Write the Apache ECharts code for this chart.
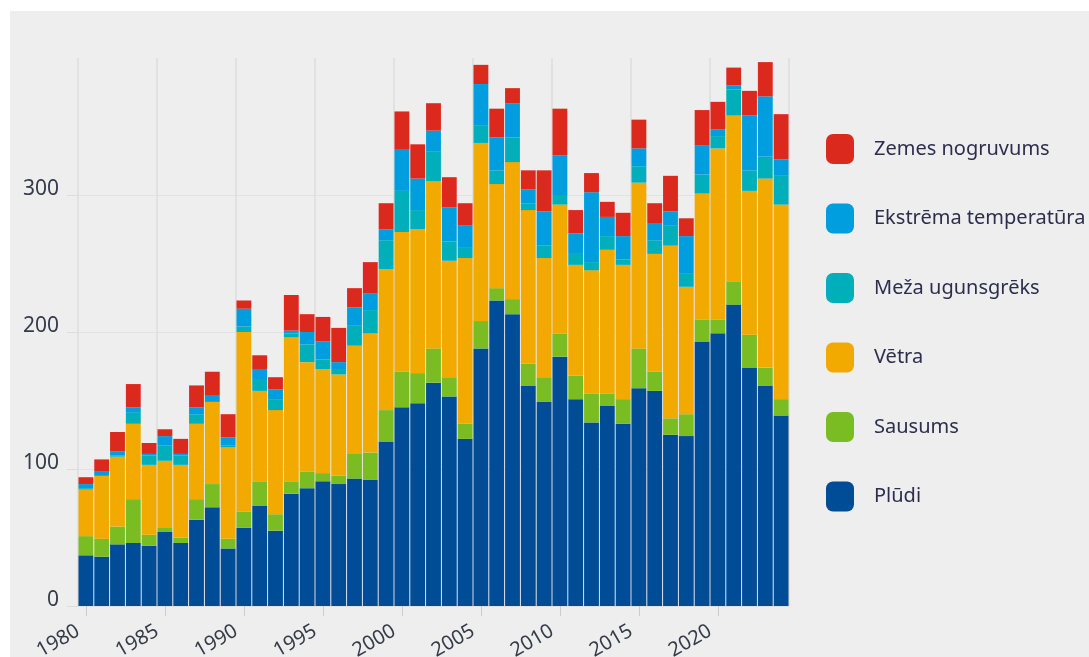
<!DOCTYPE html>
<html>
<head>
<meta charset="utf-8">
<script src="https://cdn.jsdelivr.net/npm/echarts@6/dist/echarts.min.js"></script>
<style>
  html, body { margin: 0; padding: 0; background: #ffffff; width: 1089px; height: 657px; overflow: hidden; }
  #chart { position: absolute; left: 10px; top: 11px; width: 1079px; height: 646px; background: #eeeeee; }
</style>
</head>
<body>
<div id="chart"></div>
<script>
const years = [];
for (let y = 1980; y <= 2024; y++) years.push(String(y));
const yTicks = [0, 100, 200, 300];
const pludi = [37,36,45,46,44,54,46,63,72,42,57,73,55,82,86,91,89,93,92,120,145,148,163,153,122,188,223,213,161,149,182,151,134,146,133,159,157,125,124,193,199,220,174,161,139];
const sausums = [14,13,13,32,8,3,4,15,17,7,12,18,12,9,12,6,6,18,20,23,26,22,25,14,11,20,9,11,16,18,17,17,21,9,18,29,14,12,16,16,10,17,24,13,12];
const vetra = [34,46,51,55,51,49,53,55,60,67,131,66,76,105,80,76,74,79,87,103,102,105,122,85,121,130,76,100,112,87,94,81,90,105,98,121,86,126,93,92,125,121,105,138,142];
const meza = [1,0,1,8,7,11,7,7,0,1,4,8,8,3,13,7,4,15,17,21,30,14,22,14,8,13,10,18,5,9,7,8,6,10,4,12,10,15,10,14,9,19,15,16,21];
const ekstrema = [3,3,3,4,1,7,1,5,5,6,13,8,7,2,9,13,5,13,12,8,30,23,15,25,16,30,24,25,10,25,29,15,51,14,17,13,12,10,27,21,5,3,40,44,12];
const zemes = [5,9,14,17,8,5,11,16,17,17,6,10,9,26,13,18,25,14,23,19,28,25,20,22,16,14,21,11,14,30,34,17,14,11,17,21,15,26,13,26,20,13,18,25,33];
const seriesNames = ['Plūdi', 'Sausums', 'Vētra', 'Meža ugunsgrēks', 'Ekstrēma temperatūra', 'Zemes nogruvums'];
const seriesData = [pludi, sausums, vetra, meza, ekstrema, zemes];
const seriesColors = ['#004c97', '#7abd23', '#f2a900', '#00afb9', '#009ddf', '#dc291e'];
const chart = echarts.init(document.getElementById('chart'), null, { renderer: 'canvas' });
const option = {
  backgroundColor: '#eeeeee',
  animation: false,
  textStyle: { fontFamily: 'Noto Sans' },
  legend: {
    orient: 'vertical', left: 816, top: 123, padding: 0, itemWidth: 28, itemHeight: 30, itemGap: 39.5,
    icon: 'roundRect', data: seriesNames.slice().reverse(),
    textStyle: { fontSize: 20, color: '#2e2d4d', fontFamily: 'Noto Sans', padding: [0, 0, 0, 15] },
    selectedMode: false
  },
  grid: { left: 68, top: 47, right: 300, bottom: 51, containLabel: false, outerBoundsMode: 'none' },
  xAxis: {
    type: 'category', data: years, boundaryGap: true,
    axisLine: { show: false },
    axisTick: { show: true, alignWithLabel: true, interval: 4, length: 10, lineStyle: { color: '#cccccc', width: 1 } },
    axisLabel: { interval: 4, rotate: 30, margin: 19, padding: [0, 9, 0, 0], fontSize: 20, color: '#353b48', fontFamily: 'Noto Sans' },
    splitLine: { show: true, interval: 4, lineStyle: { color: '#dddddd', width: 1.5 } }
  },
  yAxis: {
    type: 'value', min: 0, max: 400, interval: 100,
    axisLine: { show: false },
    axisTick: { show: true, length: 11, customValues: yTicks, lineStyle: { color: '#dddddd', width: 1 } },
    axisLabel: { customValues: yTicks, margin: 19, verticalAlign: 'bottom', lineHeight: 11, fontSize: 21, color: '#353b48', fontFamily: 'Noto Sans' },
    splitLine: { show: true, lineStyle: { color: ['#e2e2e2', '#e2e2e2', '#e2e2e2', '#e2e2e2', 'rgba(0,0,0,0)'], width: 1 } }
  },
  series: seriesNames.map((name, i) => ({
    name: name, type: 'bar', stack: 'total', barCategoryGap: '6%', data: seriesData[i],
    itemStyle: { color: seriesColors[i] }, emphasis: { disabled: true }
  }))
};
chart.setOption(option);
</script>
</body>
</html>
